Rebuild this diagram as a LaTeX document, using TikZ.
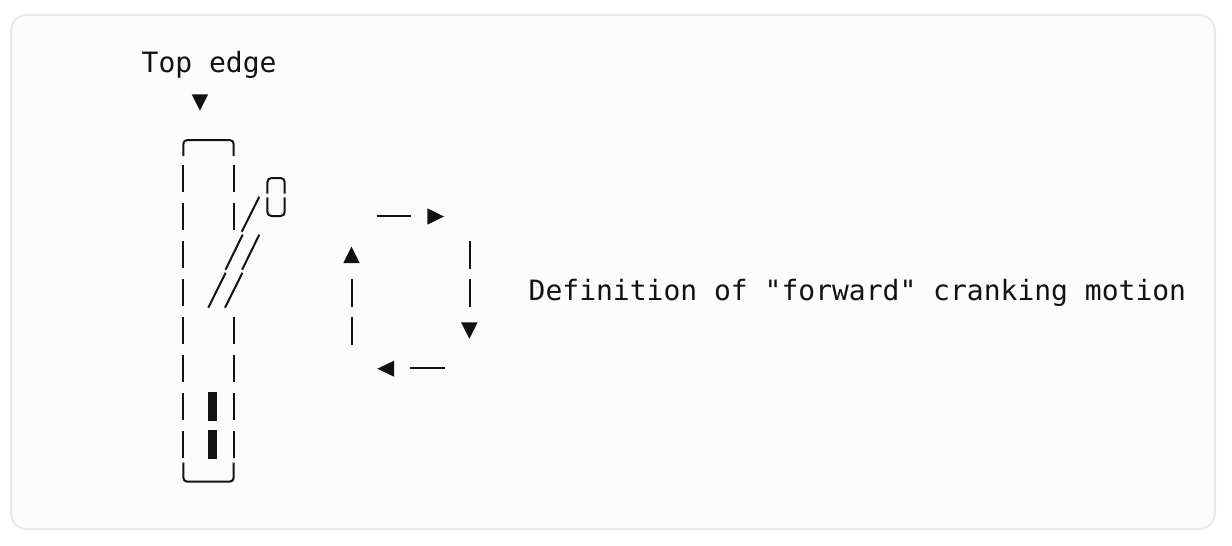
\documentclass[tikz,border=0pt]{standalone}
\usepackage{fontspec}
\setmonofont{DejaVu Sans Mono}
\definecolor{ink}{HTML}{121212}
\definecolor{framefill}{HTML}{FCFCFC}
\definecolor{frameline}{HTML}{E9E9E9}
\tikzset{
  stroke/.style={draw=ink,line width=2pt,line cap=butt},
  thinstroke/.style={draw=ink,line width=2pt,line cap=butt},
  tri/.style={fill=ink,draw=none},
  solidbar/.style={fill=ink,draw=none},
  lbl/.style={inner sep=0pt,anchor=base west,text=ink,font=\fontsize{28pt}{30pt}\selectfont\ttfamily},
}
\begin{document}
\begin{tikzpicture}[x=1pt,y=-1pt]
\useasboundingbox (0,0) rectangle (1232,546);
\fill[white] (0,0) rectangle (1232,546);
\draw[draw=frameline,fill=framefill,line width=2pt,rounded corners=16pt] (11,15) rectangle (1215,529);
\node[lbl] (topedge) at (141.5,72) {Top edge};
\node[lbl] (defn) at (528.5,300) {Definition of "forward" cranking motion};
% top-edge marker
\fill[tri] (191.7,94.3) -- (208.2,94.3) -- (200,110.7) -- cycle;
% frame tube
\draw[stroke,rounded corners=4pt] (183.3,156) -- (183.3,140) -- (233.7,140) -- (233.7,156);
\draw[stroke,rounded corners=4pt] (183.3,462.7) -- (183.3,481.7) -- (233.7,481.7) -- (233.7,462.7);
\foreach \yy in {164.7,202.7,240.7,278.7,316.7,354.7,392.7,430.7}
  \draw[stroke] (183.3,\yy) -- (183.3,\yy+27.7);
\foreach \yy in {164.7,202.7,316.7,354.7,392.7,430.7}
  \draw[stroke] (233.7,\yy) -- (233.7,\yy+27.7);
% crank arm
\draw[thinstroke] (259.3,196.7) -- (241.8,231.7);
\draw[thinstroke] (242.7,234.7) -- (225.5,269.7);
\draw[thinstroke] (259.3,234.7) -- (242.1,269.7);
\draw[thinstroke] (225.7,272.7) -- (208.3,307.7);
\draw[thinstroke] (242.4,272.7) -- (225,307.7);
% pedal
\draw[stroke,rounded corners=4pt] (267.4,193.5) -- (267.4,178) -- (284.7,178) -- (284.7,193.5);
\draw[stroke,rounded corners=4pt] (267.4,197.3) -- (267.4,216) -- (284.7,216) -- (284.7,197.3);
% solid bars
\fill[solidbar] (208.3,392.3) rectangle (217,421);
\fill[solidbar] (208.3,430.3) rectangle (217,459);
% rotation loop
\draw[stroke] (376.7,215.7) -- (411.3,215.7);
\fill[tri] (427.3,208.3) -- (444,216.5) -- (427.3,224.7) -- cycle;
\draw[stroke] (470,240.7) -- (470,268.7);
\draw[stroke] (470,278.7) -- (470,306.7);
\fill[tri] (461,322.3) -- (477.7,322.3) -- (469.4,338.7) -- cycle;
\draw[stroke] (444.7,368) -- (410.3,368);
\fill[tri] (394,360.7) -- (377.3,368.7) -- (394,376.7) -- cycle;
\draw[stroke] (352,344.7) -- (352,316.7);
\draw[stroke] (352,306.7) -- (352,278.7);
\fill[tri] (343.3,263) -- (359.7,263) -- (351.5,246.7) -- cycle;
\end{tikzpicture}
\end{document}
